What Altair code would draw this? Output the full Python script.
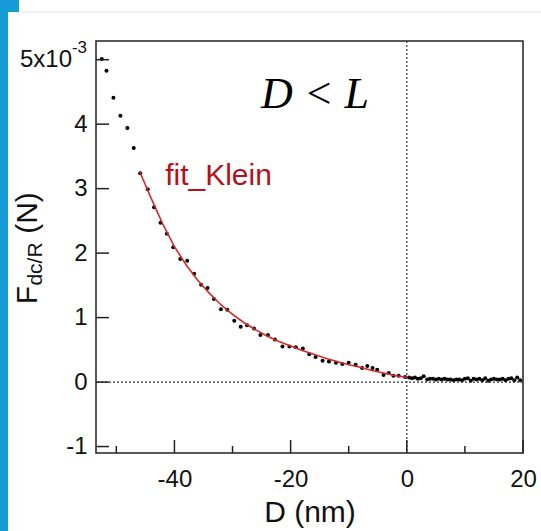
import altair as alt
import pandas as pd

# measured data (F in units of 1e-3 N)
D_left = [-52.5, -51.7, -50.5, -49.3, -48.1, -47.0, -45.9, -44.6, -43.5, -42.4,
          -41.3, -40.2, -39.0, -37.8, -36.6, -35.4, -34.3, -33.2, -32.0, -30.9,
          -29.7, -28.6, -27.5, -26.3, -25.2, -23.9, -22.7, -21.4, -20.2, -19.1,
          -17.9, -16.8, -15.7, -14.5, -13.4, -12.2, -11.1, -10.0, -8.8, -7.7,
          -6.8, -5.9, -5.1, -4.0, -3.1, -2.3, -1.4, -0.3]
F_left = [5.01, 4.83, 4.41, 4.13, 3.94, 3.63, 3.24, 2.99, 2.71, 2.47,
          2.30, 2.09, 1.91, 1.88, 1.68, 1.51, 1.46, 1.29, 1.13, 1.12,
          0.95, 0.86, 0.88, 0.83, 0.73, 0.73, 0.66, 0.55, 0.55, 0.54,
          0.52, 0.43, 0.39, 0.33, 0.32, 0.30, 0.28, 0.30, 0.27, 0.22,
          0.25, 0.22, 0.19, 0.11, 0.14, 0.10, 0.10, 0.08]
D_right = [0.4, 0.9, 1.4, 1.9, 2.4, 2.9, 3.5, 4.0, 4.5, 5.0, 5.5, 6.0, 6.5,
           7.0, 7.5, 8.0, 8.5, 9.0, 9.5, 10.0, 10.5, 11.0, 11.5, 12.0, 12.5,
           13.0, 13.5, 14.0, 14.5, 15.0, 15.5, 16.0, 16.5, 17.0, 17.5, 18.0,
           18.5, 19.0, 19.5]
F_right = [0.07, 0.06, 0.07, 0.05, 0.06, 0.09, 0.04, 0.05, 0.05, 0.04, 0.05,
           0.04, 0.05, 0.04, 0.04, 0.03, 0.04, 0.04, 0.03, 0.05, 0.06, 0.02,
           0.05, 0.04, 0.05, 0.03, 0.06, 0.02, 0.04, 0.05, 0.04, 0.04, 0.05,
           0.03, 0.05, 0.06, 0.03, 0.07, 0.03]
D_fit = [-46, -44, -42, -40, -38, -36, -34, -32, -30, -28, -26, -24, -22,
         -20, -18, -16, -14, -12, -10, -8, -6, -4, -2, 0]
F_fit = [3.27, 2.85, 2.45, 2.10, 1.82, 1.58, 1.38, 1.20, 1.05, 0.92, 0.81,
         0.71, 0.63, 0.56, 0.49, 0.43, 0.37, 0.32, 0.27, 0.23, 0.18, 0.14,
         0.10, 0.07]
x_major = [-40, -20, 0, 20]
x_minor = [-50, -30, -10, 10]
y_major = [-1, 0, 1, 2, 3, 4, 5]

W, H = 427, 412
FONT = "Liberation Sans"
xs = alt.Scale(domain=[-53.5, 20.0], nice=False, zero=False)
ys = alt.Scale(domain=[-1.1, 5.29], nice=False, zero=False)

XAX = alt.Axis(
    values=x_major, labelExpr="toString(datum.value)", domain=False,
    ticks=False, grid=False, labelFont=FONT, labelFontSize=24,
    labelColor="#111", labelPadding=14, title="D (nm)", titleFont=FONT,
    titleFontSize=30, titleFontWeight="normal", titleColor="#111",
    titlePadding=6, labelBound=False, labelOverlap=False, labelFlush=False)
YAX = alt.Axis(
    values=y_major,
    labelExpr="datum.value == 5 ? '' : toString(datum.value)",
    domain=False, ticks=False, grid=False, labelFont=FONT,
    labelFontSize=24, labelColor="#111", labelPadding=9, title=None,
    labelOverlap=False, labelFlush=False)


def X(f):
    return alt.X(f, scale=xs, axis=XAX, title="D (nm)")


def Y(f):
    return alt.Y(f, scale=ys, axis=YAX, title=None)


pts = pd.DataFrame({"D": D_left + D_right, "F": F_left + F_right})
fit = pd.DataFrame({"D": D_fit, "F": F_fit})
one = pd.DataFrame({"a": [0]})

# decoration (blue page strip, faint top line)
strip = alt.Chart(one).mark_rect(color="#159bd6").encode(
    x=alt.value(-96), x2=alt.value(-88), y=alt.value(-41), y2=alt.value(H + 78))
block = alt.Chart(one).mark_rect(color="#159bd6").encode(
    x=alt.value(-96), x2=alt.value(-77), y=alt.value(-41), y2=alt.value(-29))
topline = alt.Chart(one).mark_rule(color="#e4e4e4", strokeWidth=1).encode(
    x=alt.value(-77), x2=alt.value(W + 18), y=alt.value(-29))

zero_h = alt.Chart(pd.DataFrame({"F": [0]})).mark_rule(
    color="#333", strokeDash=[2, 2], strokeWidth=1.2).encode(y=Y("F:Q"))
zero_v = alt.Chart(pd.DataFrame({"D": [0]})).mark_rule(
    color="#333", strokeDash=[2, 2], strokeWidth=1.2).encode(x=X("D:Q"))

fit_line = alt.Chart(fit).mark_line(color="#d42a2a", strokeWidth=1.6).encode(
    x=X("D:Q"), y=Y("F:Q"))

dots = alt.Chart(pts).mark_circle(color="black", size=16, opacity=1).encode(
    x=X("D:Q"), y=Y("F:Q"))

tick_x_major = alt.Chart(pd.DataFrame({"D": x_major})).mark_rule(
    color="#222", strokeWidth=1.5).encode(
    x=X("D:Q"), y=alt.value(H), y2=alt.value(H - 13))
tick_x_minor = alt.Chart(pd.DataFrame({"D": x_minor})).mark_rule(
    color="#222", strokeWidth=1.5).encode(
    x=X("D:Q"), y=alt.value(H), y2=alt.value(H - 7))
tick_y = alt.Chart(pd.DataFrame({"F": y_major})).mark_rule(
    color="#222", strokeWidth=1.5).encode(
    y=Y("F:Q"), x=alt.value(0), x2=alt.value(13))

lab5 = alt.Chart(pd.DataFrame({"F": [5]})).mark_text(
    text="5x10", align="right", baseline="middle", font=FONT, fontSize=24,
    color="#111").encode(y=Y("F:Q"), x=alt.value(-24))
lab5e = alt.Chart(pd.DataFrame({"F": [5]})).mark_text(
    text="-3", align="right", baseline="middle", font=FONT, fontSize=17,
    dy=-12, color="#111").encode(y=Y("F:Q"), x=alt.value(-9))

ytitle_F = alt.Chart(one).mark_text(
    text="F", angle=270, align="center", baseline="alphabetic", font=FONT,
    fontSize=30, color="#111").encode(x=alt.value(-59), y=alt.value(254))
ytitle_sub = alt.Chart(one).mark_text(
    text="dc/R", angle=270, align="center", baseline="alphabetic", font=FONT,
    fontSize=21, color="#111").encode(x=alt.value(-54), y=alt.value(223))
ytitle_N = alt.Chart(one).mark_text(
    text="(N)", angle=270, align="center", baseline="alphabetic", font=FONT,
    fontSize=30, color="#111").encode(x=alt.value(-59), y=alt.value(172))

ann = pd.DataFrame({"D": [-15.8], "F": [4.25]})
dl = alt.Chart(ann).mark_text(
    text="D < L", align="center", baseline="alphabetic",
    font="Liberation Serif", fontStyle="italic", fontSize=44,
    color="#000").encode(x=X("D:Q"), y=Y("F:Q"))
ann2 = pd.DataFrame({"D": [-41.6], "F": [3.06]})
fk = alt.Chart(ann2).mark_text(
    text="fit_Klein", align="left", baseline="alphabetic", font=FONT,
    fontSize=30, color="#b3121c").encode(x=X("D:Q"), y=Y("F:Q"))

chart = alt.layer(
    dots, strip, block, topline, zero_h, zero_v, fit_line,
    tick_x_major, tick_x_minor, tick_y, lab5, lab5e,
    ytitle_F, ytitle_sub, ytitle_N, dl, fk
).properties(
    width=W, height=H,
    autosize=alt.AutoSizeParams(type="none"),
    padding={"left": 96, "top": 41, "right": 18, "bottom": 78},
    background="white",
).configure_view(stroke="#222", strokeWidth=1.5)

chart.save("out.html", embed_options={"renderer": "svg", "actions": False})
